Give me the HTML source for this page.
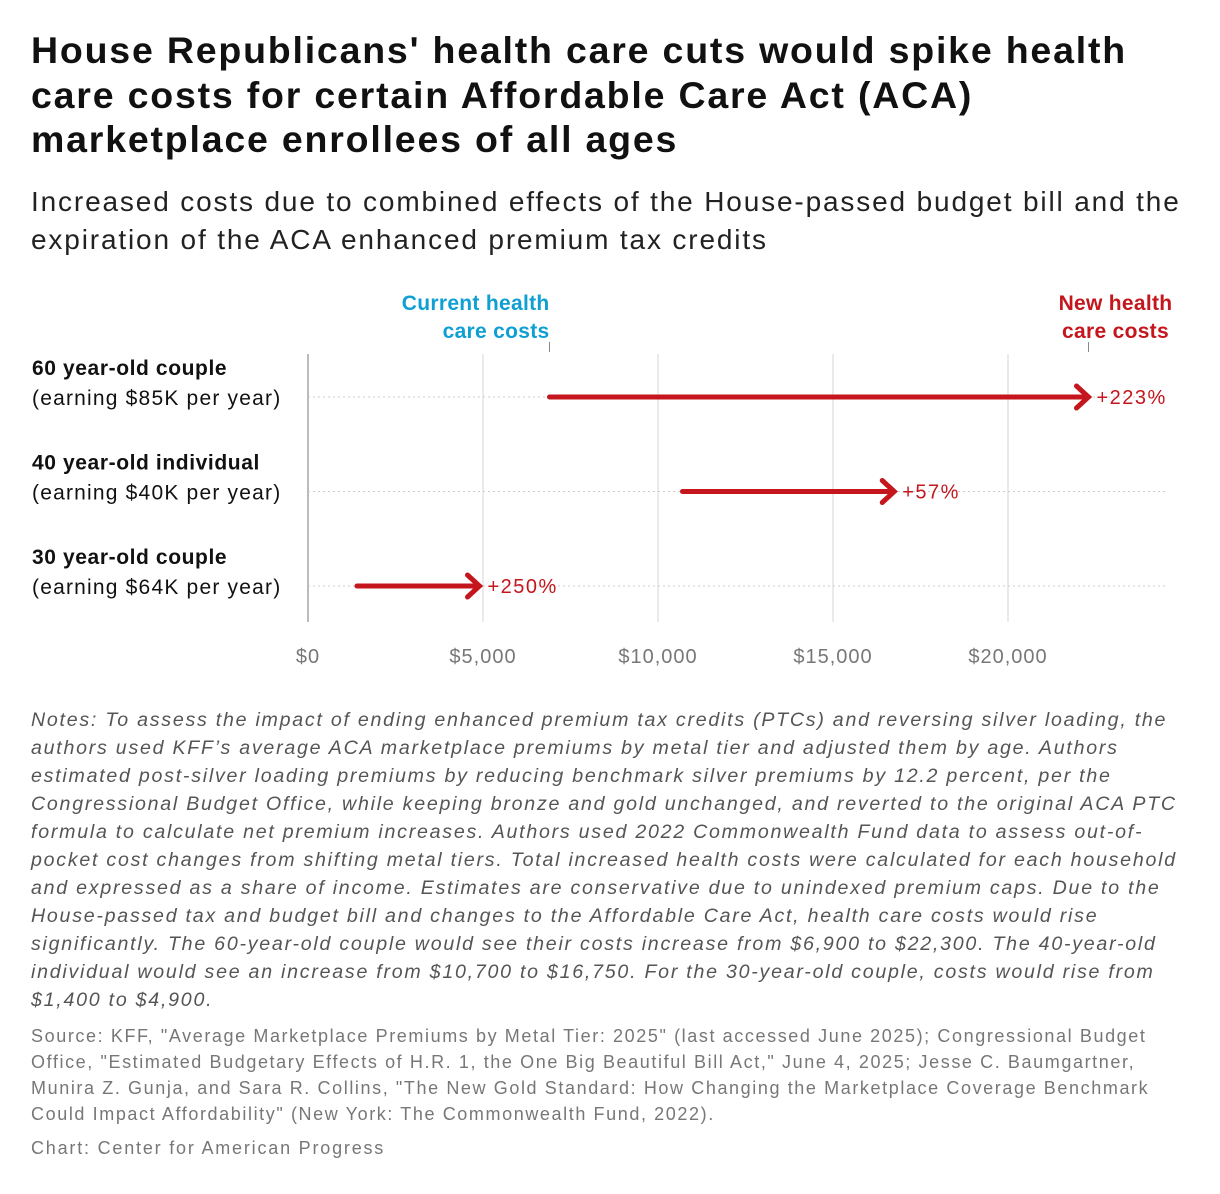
<!DOCTYPE html>
<html><head><meta charset="utf-8"><style>
body{margin:0;background:#fff;font-family:"Liberation Sans",sans-serif;}
div{white-space:nowrap}
.t{position:absolute;left:31px;top:28px;font-size:37.5px;font-weight:bold;line-height:44.5px;color:#111;letter-spacing:1.8px}
.s{position:absolute;left:31px;top:183px;font-size:28px;line-height:38px;color:#222;letter-spacing:1.85px}
.n{position:absolute;left:31px;top:706px;font-size:19.6px;line-height:28px;color:#555;font-style:italic;letter-spacing:1.75px}
.src{position:absolute;left:31px;top:1023px;font-size:18px;line-height:26px;color:#777;letter-spacing:1.6px}
.cr{position:absolute;left:31px;top:1138px;font-size:18px;color:#777;letter-spacing:1.8px}
</style></head><body>
<div class="t">House Republicans' health care cuts would spike health<br>care costs for certain Affordable Care Act (ACA)<br>marketplace enrollees of all ages</div>
<div class="s">Increased costs due to combined effects of the House-passed budget bill and the<br>expiration of the ACA enhanced premium tax credits</div>
<svg id="c" width="1220" height="680" style="position:absolute;left:0;top:0"></svg>
<div class="n">Notes: To assess the impact of ending enhanced premium tax credits (PTCs) and reversing silver loading, the<br>authors used KFF’s average ACA marketplace premiums by metal tier and adjusted them by age. Authors<br>estimated post-silver loading premiums by reducing benchmark silver premiums by 12.2 percent, per the<br>Congressional Budget Office, while keeping bronze and gold unchanged, and reverted to the original ACA PTC<br>formula to calculate net premium increases. Authors used 2022 Commonwealth Fund data to assess out-of-<br>pocket cost changes from shifting metal tiers. Total increased health costs were calculated for each household<br>and expressed as a share of income. Estimates are conservative due to unindexed premium caps. Due to the<br>House-passed tax and budget bill and changes to the Affordable Care Act, health care costs would rise<br>significantly. The 60-year-old couple would see their costs increase from $6,900 to $22,300. The 40-year-old<br>individual would see an increase from $10,700 to $16,750. For the 30-year-old couple, costs would rise from<br>$1,400 to $4,900.</div>
<div class="src">Source: KFF, "Average Marketplace Premiums by Metal Tier: 2025" (last accessed June 2025); Congressional Budget<br>Office, "Estimated Budgetary Effects of H.R. 1, the One Big Beautiful Bill Act," June 4, 2025; Jesse C. Baumgartner,<br>Munira Z. Gunja, and Sara R. Collins, "The New Gold Standard: How Changing the Marketplace Coverage Benchmark<br>Could Impact Affordability" (New York: The Commonwealth Fund, 2022).</div>
<div class="cr">Chart: Center for American Progress</div>
<script>
const groups=["60 year-old couple","40 year-old individual","30 year-old couple"];
const incomes=["(earning $85K per year)","(earning $40K per year)","(earning $64K per year)"];
const currentCost=[6900,10700,1400];
const newCost=[22300,16750,4900];
const changeLabels=["+223%","+57%","+250%"];
const ticks=[0,5000,10000,15000,20000];
const tickLabels=["$0","$5,000","$10,000","$15,000","$20,000"];
const x=v=>308+v*0.035;
const y=i=>397+i*94.5;
const svg=document.getElementById('c');
const NS="http://www.w3.org/2000/svg";
function mk(t,a,txt){const e=document.createElementNS(NS,t);for(const k in a)e.setAttribute(k,a[k]);if(txt!=null)e.textContent=txt;svg.appendChild(e);return e;}
ticks.forEach((t,i)=>{
 const g=mk('line',{x1:x(t),x2:x(t),y1:354,y2:622,stroke:i==0?'#bbb':'#e3e3e3','stroke-width':i==0?2:1.5});
 
 
 const l=mk('text',{x:x(t),y:663,'text-anchor':'middle','font-size':20,fill:'#777','font-family':'Liberation Sans','letter-spacing':1},tickLabels[i]);
 
 
});
groups.forEach((g,i)=>{
 const yy=y(i);
 const d=mk('line',{x1:308,x2:1168,y1:yy,y2:yy,stroke:'#ccc','stroke-dasharray':'2 3','stroke-width':1});
 
 
 const n=mk('text',{x:32,y:yy-22,'font-size':21,'font-weight':'bold',fill:'#111','font-family':'Liberation Sans','letter-spacing':0.6},g);
 
 
 const s=mk('text',{x:32,y:yy+8,'font-size':21,fill:'#111','font-family':'Liberation Sans','letter-spacing':1.2},incomes[i]);
 
 
 const x1=x(currentCost[i]),x2=x(newCost[i]);
 const a=mk('line',{x1:x1,x2:x2-3,y1:yy,y2:yy,stroke:'#c4161c','stroke-width':5,'stroke-linecap':'round'});
 
 
 const h=mk('path',{d:`M${x2-12},${yy-11} L${x2},${yy} L${x2-12},${yy+11}`,fill:'none',stroke:'#c4161c','stroke-width':5,'stroke-linecap':'round'});
 
 
 const c=mk('text',{x:x2+8,y:yy+7,'font-size':20,fill:'#c4161c','font-family':'Liberation Sans','letter-spacing':1.5},changeLabels[i]);
 
 
});
const cx=x(currentCost[0]),nx=x(newCost[0]);
[[cx,'#0e9fd3','Current health','care costs'],[nx,'#c4161c','New health','care costs']].forEach(([px,col,a,b],k)=>{
 const t=mk('line',{x1:px,x2:px,y1:342,y2:352,stroke:'#888','stroke-width':1});
 
 
 const anchor=k==0?'end':'middle';
 const xx=k==0?px:px+27;
 const l1=mk('text',{x:xx,y:310,'text-anchor':anchor,'font-size':21,'font-weight':'bold',fill:col,'font-family':'Liberation Sans','letter-spacing':0.3},a);
 
 
 const l2=mk('text',{x:xx,y:338,'text-anchor':anchor,'font-size':21,'font-weight':'bold',fill:col,'font-family':'Liberation Sans','letter-spacing':0.3},b);
 
 
});
</script>
</body></html>
